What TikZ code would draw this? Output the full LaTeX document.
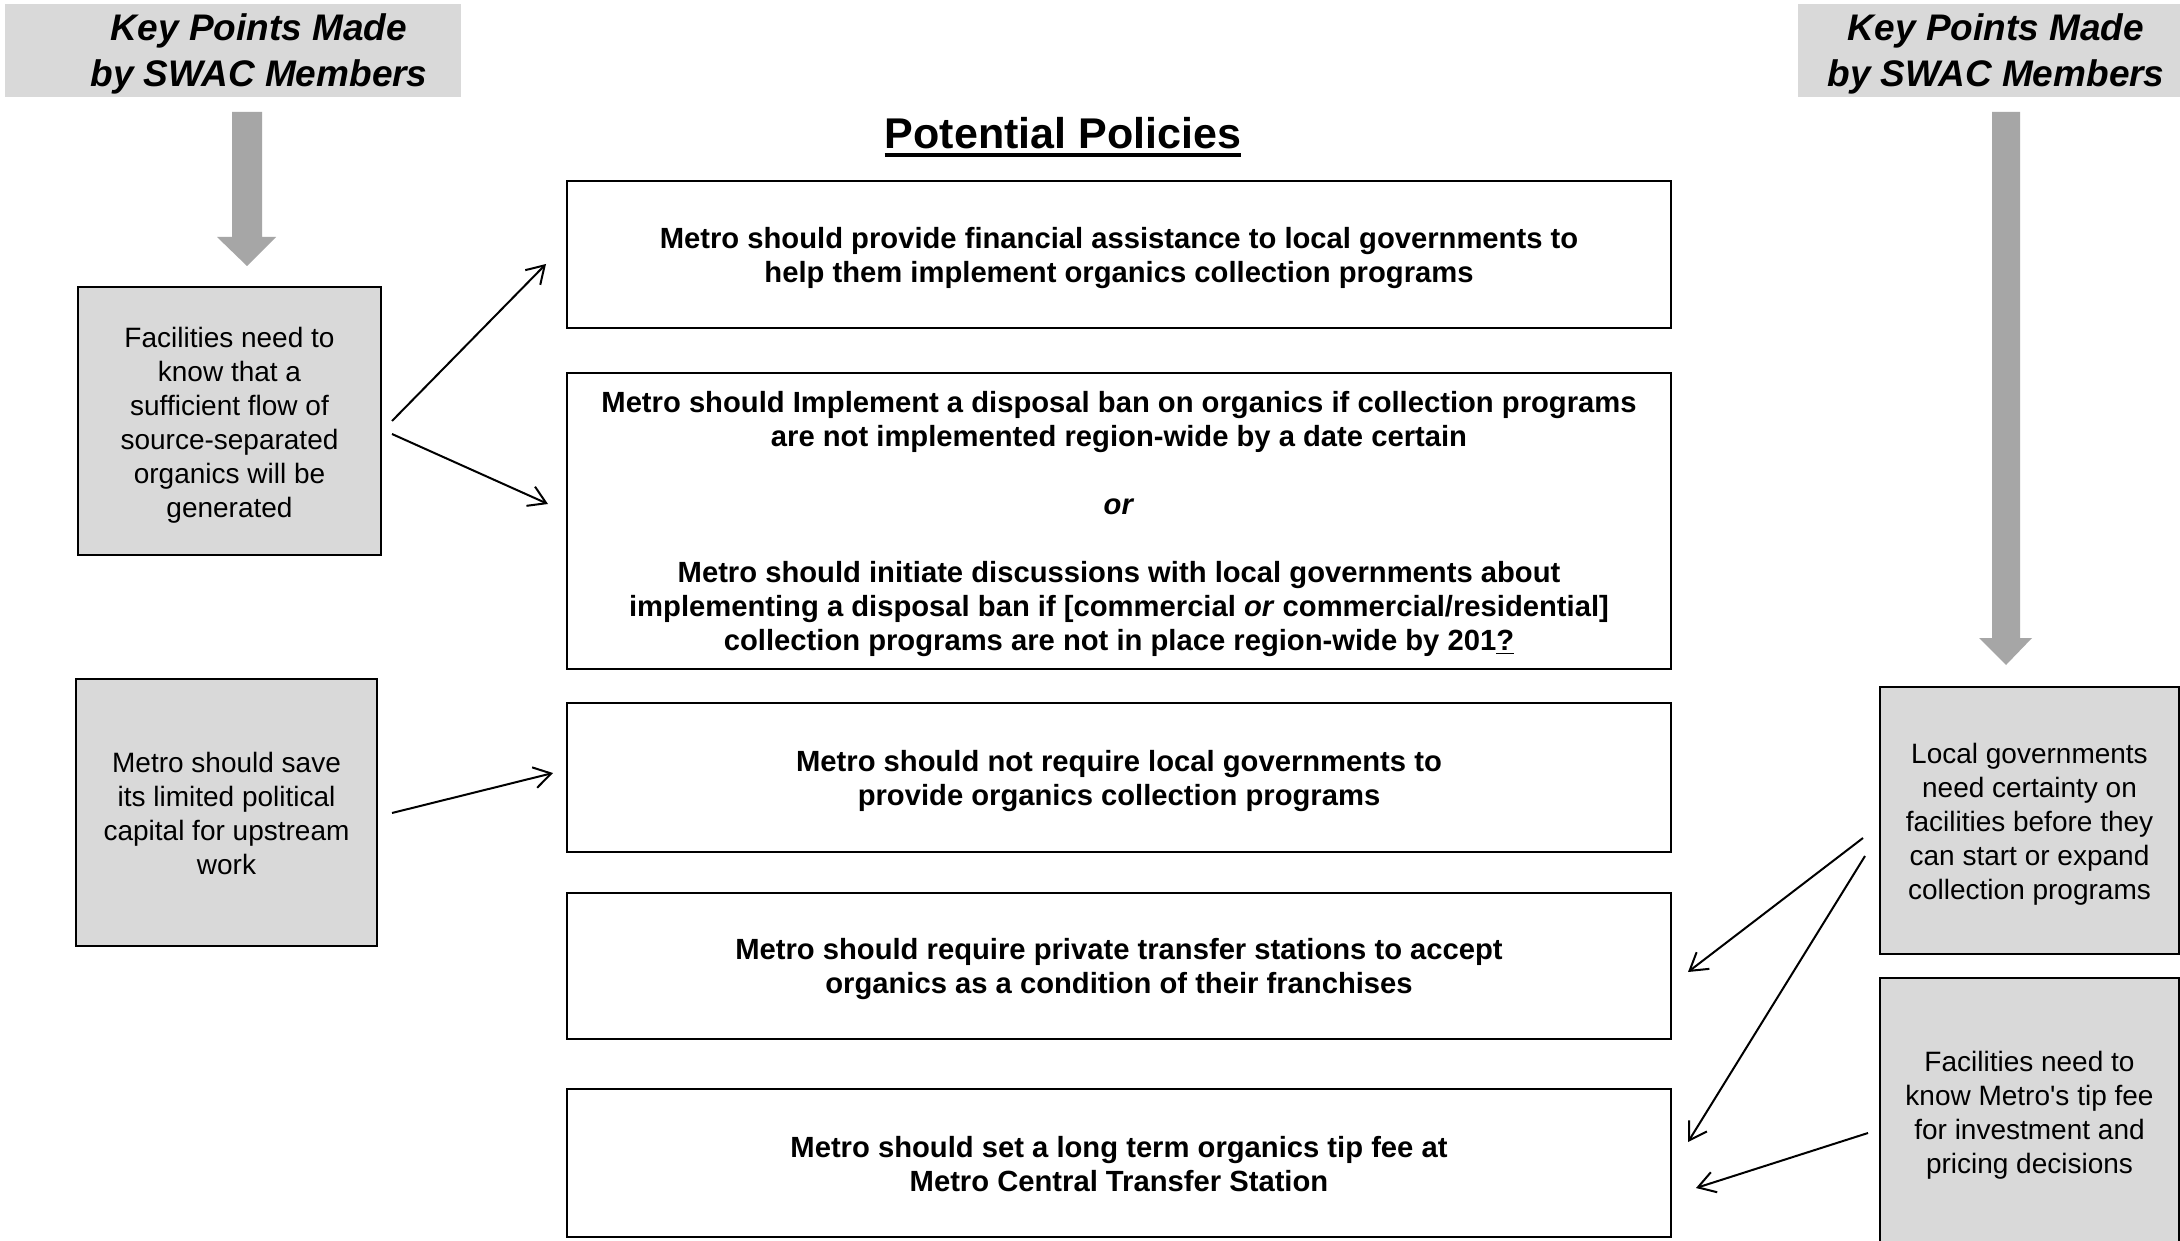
\documentclass[tikz,border=0pt]{standalone}
\usepackage{fontspec}
\setmainfont{Liberation Sans}[Ligatures=TeXOff]
\usetikzlibrary{arrows.meta}
\definecolor{boxgray}{HTML}{D9D9D9}
\definecolor{arrowgray}{HTML}{A6A6A6}
\newcommand\tstrut{\rule{0pt}{14pt}}
\newcommand\bstrut{\rule[-3pt]{0pt}{3pt}}
\tikzset{
  policy/.style={draw=black, line width=1.2pt, minimum width=552pt, align=center, inner sep=0pt,
    font=\bfseries\fontsize{14.6}{17}\selectfont},
  keybox/.style={draw=black, fill=boxgray, line width=1.35pt, align=center, inner sep=0pt,
    font=\fontsize{14}{17}\selectfont},
  hdrtext/.style={align=center, inner sep=0pt, font=\bfseries\itshape\fontsize{18.5}{23}\selectfont},
  conn/.style={line width=1pt, -{Straight Barb[length=8.5pt,width=10.5pt,line width=1pt]}},
  bigarrow/.style={fill=arrowgray, draw=none}
}
\begin{document}
\begin{tikzpicture}[x=0.5pt,y=-0.5pt]
\useasboundingbox (0,0) rectangle (2180,1241);
\fill[white] (0,0) rectangle (2180,1241);

% headers
\fill[boxgray] (5,4) rectangle (461,97);
\node[hdrtext] (hl) at (259,54) {Key Points Made\\ by SWAC Members};
\fill[boxgray] (1798,4) rectangle (2190,97);
\node[hdrtext] (hr) at (1996,54) {Key Points Made\\ by SWAC Members};

% big grey arrows
\fill[bigarrow] (232,112) -- (262,112) -- (262,237) -- (276,237) -- (247,266) -- (217,237) -- (232,237) -- cycle;
\fill[bigarrow] (1992,112) -- (2020,112) -- (2020,638) -- (2032,638) -- (2006,665) -- (1979,638) -- (1992,638) -- cycle;

% title
\node[inner sep=0pt, anchor=base, font=\bfseries\fontsize{21.5}{25}\selectfont] (title) at (1063,149) {Potential Policies};
\draw[line width=2pt] ([yshift=-3pt]title.base west) -- ([yshift=-3pt]title.base east);

% policy boxes
\node[policy, minimum height=73.5pt] (p1) at (1119,254.5)
  {\tstrut Metro should provide financial assistance to local governments to\\ help them implement organics collection programs\bstrut};
\node[policy, minimum height=148pt] (p2) at (1119,521)
  {\tstrut Metro should Implement a disposal ban on organics if collection programs\\
   are not implemented region-wide by a date certain\\[17pt]
   \textit{or}\\[17pt]
   Metro should initiate discussions with local governments about\\
   implementing a disposal ban if [commercial \textit{or} commercial/residential]\\
   collection programs are not in place region-wide by 201\underline{?}\bstrut};
\node[policy, minimum height=74.5pt] (p3) at (1119,777.5)
  {\tstrut Metro should not require local governments to\\ provide organics collection programs\bstrut};
\node[policy, minimum height=73pt] (p4) at (1119,966)
  {\tstrut Metro should require private transfer stations to accept\\ organics as a condition of their franchises\bstrut};
\node[policy, minimum height=74pt] (p5) at (1119,1163)
  {\tstrut Metro should set a long term organics tip fee at\\ Metro Central Transfer Station\bstrut};

% key point boxes
\node[keybox, minimum width=151.5pt, minimum height=134pt] (l1) at (229.5,421)
  {\tstrut Facilities need to\\ know that a\\ sufficient flow of\\ source-separated\\ organics will be\\ generated\bstrut};
\node[keybox, minimum width=150.5pt, minimum height=133.5pt] (l2) at (226.5,812.5)
  {\tstrut Metro should save\\ its limited political\\ capital for upstream\\ work\bstrut};
\node[keybox, minimum width=149.5pt, minimum height=133.5pt] (r1) at (2029.5,820.5)
  {\tstrut Local governments\\ need certainty on\\ facilities before they\\ can start or expand\\ collection programs\bstrut};
\node[keybox, minimum width=149.5pt, minimum height=133.5pt] (r2) at (2029.5,1111.5)
  {\tstrut Facilities need to\\ know Metro's tip fee\\ for investment and\\ pricing decisions\bstrut};

% connector end points
\coordinate (a1s) at (392,421);  \coordinate (a1e) at (546,264);
\coordinate (a2s) at (392,434);  \coordinate (a2e) at (548,504);
\coordinate (a3s) at (392,813);  \coordinate (a3e) at (553,773);
\coordinate (a4s) at (1863,838); \coordinate (a4e) at (1688,972);
\coordinate (a5s) at (1865,856); \coordinate (a5e) at (1688,1142);
\coordinate (a6s) at (1868,1133);\coordinate (a6e) at (1696,1188);

\draw[conn] (a1s) -- (a1e);
\draw[conn] (a2s) -- (a2e);
\draw[conn] (a3s) -- (a3e);
\draw[conn] (a4s) -- (a4e);
\draw[conn] (a5s) -- (a5e);
\draw[conn] (a6s) -- (a6e);
\end{tikzpicture}
\end{document}
